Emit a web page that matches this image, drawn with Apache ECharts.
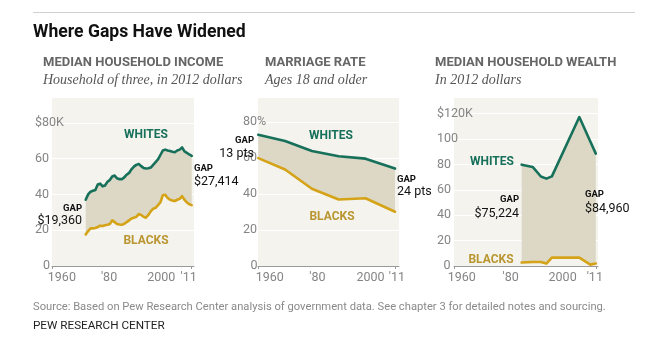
<!DOCTYPE html>
<html><head><meta charset="utf-8">
<script src="https://cdn.jsdelivr.net/npm/echarts@6/dist/echarts.min.js"></script>
<style>html,body{margin:0;padding:0;background:#fff}#c{width:650px;height:360px}</style>
</head><body><div id="c"></div>
<script>
// ---------- DATA ----------
const incomeYears = [1967,1968,1969,1970,1971,1972,1973,1974,1975,1976,1977,1978,1979,1980,1981,1982,1983,1984,1985,1986,1987,1988,1989,1990,1991,1992,1993,1994,1995,1996,1997,1998,1999,2000,2001,2002,2003,2004,2005,2006,2007,2008,2009,2010,2011];
const incomeWhites = [37.0,40.0,41.5,42.0,42.5,45.5,46.0,44.5,45.0,47.0,48.0,50.0,50.5,49.0,48.5,48.5,49.5,51.0,52.0,54.0,55.5,56.5,57.0,55.8,54.8,54.5,54.6,55.0,56.5,58.0,59.5,62.0,64.5,65.0,64.5,64.2,63.8,63.5,64.5,65.0,66.2,64.0,63.2,62.3,61.5];
const incomeBlacks = [17.6,19.5,21.0,21.0,21.2,21.8,22.5,22.3,22.8,23.0,23.4,25.5,24.5,23.5,23.2,23.0,23.6,24.5,25.5,26.5,27.0,27.5,29.0,28.5,27.5,27.0,28.5,30.5,32.0,32.5,34.0,35.5,39.5,39.8,38.0,37.0,36.5,36.3,37.0,37.5,39.0,37.0,35.5,34.5,34.0];

const marriageYears = [1960,1970,1980,1990,2000,2011];
const marriageWhites = [73.0,69.5,64.0,61.0,59.7,54.2];
const marriageBlacks = [60.0,53.7,43.0,37.0,37.7,30.2];

const wealthYears = [1984,1988,1991,1993,1995,2005,2009,2011];
const wealthWhites = [79.8,78.0,70.5,68.8,70.6,117.3,98.1,88.5];
const wealthBlacks = [2.7,3.1,3.1,1.9,6.6,6.6,1.1,1.9];

const xTickValues = [1960,1980,2000,2011];
const xTickLabels = ['1960',"'80",'2000',"'11"];
const yTicksIncome = [0,20,40,60,80];
const yLabelsIncome = ['0','20','40','60','$80K'];
const yTicksMarriage = [0,20,40,60,80];
const yLabelsMarriage = ['0','20','40','60','80%'];
const yTicksWealth = [0,20,40,60,80,100,120];
const yLabelsWealth = ['0','20','40','60','80','100','$120K'];

const gapLabels = {
  incomeStart: '$19,360', incomeEnd: '$27,414',
  marriageStart: '13 pts', marriageEnd: '24 pts',
  wealthStart: '$75,224', wealthEnd: '$84,960'
};

// ---------- STYLE ----------
const SANS = 'Roboto, "Noto Sans", sans-serif';
const SERIF = '"Liberation Serif", "DejaVu Serif", serif';
const C_WHITE = '#17705a', C_BLACK = '#d5a318', C_BLACK_TXT = '#b99630';
const C_BG = '#f4f3ee', C_GAP = '#dcd8c5', C_AXIS = '#9a9a9a', C_TICKLBL = '#858585';

const panels = [
  {left:52, width:142, xMin:1953.0, xMax:2011.95, yMax:94.4, yInterval:20, labelShift:[-7,-8,-4,-3],
   yTicks:yTicksIncome, yLabels:yLabelsIncome, yMargin:17, zeroPad:8,
   years:incomeYears, w:incomeWhites, b:incomeBlacks},
  {left:258, width:141, xMin:1959.9, xMax:2012.5, yMax:94.0, yInterval:20, labelShift:[11.5,5.5,5,2],
   yTicks:yTicksMarriage, yLabels:yLabelsMarriage, yMargin:15, zeroPad:7.5,
   years:marriageYears, w:marriageWhites, b:marriageBlacks},
  {left:454, width:144, xMin:1959.35, xMax:2011.8, yMax:133.1, yInterval:20, labelShift:[6,0,-3,-1],
   yTicks:yTicksWealth, yLabels:yLabelsWealth, yMargin:17, zeroPad:6.5,
   years:wealthYears, w:wealthWhites, b:wealthBlacks}
];
const GRID_TOP = 97, GRID_BOTTOM_Y = 266;

function shiftRich(shifts){
  const r = {};
  shifts.forEach((d,i)=>{
    r['s'+i] = {padding: d>=0 ? [0,0,0,2*d] : [0,-2*d,0,0], color:C_TICKLBL, fontSize:12.5, fontFamily:SANS};
  });
  return r;
}

const grids = [], xAxes = [], yAxes = [], series = [];
panels.forEach((p,i)=>{
  grids.push({left:p.left, top:GRID_TOP, width:p.width, height:GRID_BOTTOM_Y-GRID_TOP,
    show:true, backgroundColor:C_BG, borderWidth:0});
  xAxes.push({type:'value', gridIndex:i, min:p.xMin, max:p.xMax,
    axisLine:{show:true, onZero:false, lineStyle:{color:C_AXIS, width:1}},
    axisTick:{show:true, customValues:[p.xMin, 2011], length:3, lineStyle:{color:C_AXIS}},
    splitLine:{show:false},
    axisLabel:{customValues:xTickValues, margin:5, showMinLabel:true, showMaxLabel:true,
      formatter:(v)=>{const k = xTickValues.indexOf(v); return k<0 ? '' : '{s'+k+'|'+xTickLabels[k]+'}';},
      rich:shiftRich(p.labelShift), color:C_TICKLBL, fontSize:12.5, fontFamily:SANS}
  });
  yAxes.push({type:'value', gridIndex:i, min:0, max:p.yMax, interval:p.yInterval,
    axisLine:{show:false}, axisTick:{show:false},
    splitLine:{show:true, lineStyle:{color:'#ffffff', width:1}},
    axisLabel:{customValues:p.yTicks, align:'left', margin:p.yMargin,
      formatter:(v)=>{const k = p.yTicks.indexOf(v); if(k<0) return ''; return v===0 ? '{z|'+p.yLabels[k]+'}' : p.yLabels[k];},
      rich:{z:{padding:[0,0,0,p.zeroPad], color:C_TICKLBL, fontSize:12.5, fontFamily:SANS}},
      color:C_TICKLBL, fontSize:12.5, fontFamily:SANS}
  });
  series.push({type:'custom', xAxisIndex:i, yAxisIndex:i, silent:true, z:2,
    data:[[p.years[0], p.w[0]]],
    renderItem:(params, api)=>{
      const pts = [];
      for (let k=0;k<p.years.length;k++) pts.push(api.coord([p.years[k], p.w[k]]));
      for (let k=p.years.length-1;k>=0;k--) pts.push(api.coord([p.years[k], p.b[k]]));
      return {type:'polygon', shape:{points:pts}, style:{fill:C_GAP}};
    }
  });
  series.push({type:'line', xAxisIndex:i, yAxisIndex:i, z:3, symbol:'none', silent:true,
    data:p.years.map((y,k)=>[y,p.w[k]]), lineStyle:{color:C_WHITE, width:2.6, join:'round', cap:'round'}});
  series.push({type:'line', xAxisIndex:i, yAxisIndex:i, z:3, symbol:'none', silent:true,
    data:p.years.map((y,k)=>[y,p.b[k]]), lineStyle:{color:C_BLACK, width:2.6, join:'round', cap:'round'}});
});

function txt(x,y,text,opt){
  return {type:'text', z:10, silent:true, style:Object.assign({x:x, y:y, text:text, fill:'#222',
    font:'12px '+SANS, align:'left', verticalAlign:'middle'}, opt||{})};
}
const gapFont = 'bold 9.5px '+SANS, valFont = '12.5px '+SANS, grpFont = 'bold 12px '+SANS;
const graphics = [
  {type:'line', silent:true, shape:{x1:33,y1:12.5,x2:635,y2:12.5}, style:{stroke:'#d0d0d0', lineWidth:1}},
  txt(33,33,'Where Gaps Have Widened',{font:'bold 17.6px '+SANS, fill:'#111'}),
  txt(43,63,'MEDIAN HOUSEHOLD INCOME',{font:'bold 13px '+SANS, fill:'#666'}),
  txt(43,80,'Household of three, in 2012 dollars',{font:'italic 14px '+SERIF, fill:'#555'}),
  txt(265,63,'MARRIAGE RATE',{font:'bold 13px '+SANS, fill:'#666'}),
  txt(265,80,'Ages 18 and older',{font:'italic 14px '+SERIF, fill:'#555'}),
  txt(435,63,'MEDIAN HOUSEHOLD WEALTH',{font:'bold 13px '+SANS, fill:'#666'}),
  txt(435,80,'In 2012 dollars',{font:'italic 14px '+SERIF, fill:'#555'}),
  // panel 1
  txt(146,135,'WHITES',{font:grpFont, fill:C_WHITE, align:'center'}),
  txt(146,241,'BLACKS',{font:grpFont, fill:C_BLACK_TXT, align:'center'}),
  txt(82,209,'GAP',{font:gapFont, fill:'#111', align:'right'}),
  txt(82,221,gapLabels.incomeStart,{font:valFont, fill:'#111', align:'right'}),
  txt(194,169,'GAP',{font:gapFont, fill:'#111'}),
  txt(194,182,gapLabels.incomeEnd,{font:valFont, fill:'#111'}),
  // panel 2
  txt(331,136,'WHITES',{font:grpFont, fill:C_WHITE, align:'center'}),
  txt(332,217,'BLACKS',{font:grpFont, fill:C_BLACK_TXT, align:'center'}),
  txt(254,141,'GAP',{font:gapFont, fill:'#111', align:'right'}),
  txt(254,153.5,gapLabels.marriageStart,{font:valFont, fill:'#111', align:'right'}),
  txt(397,180,'GAP',{font:gapFont, fill:'#111'}),
  txt(397,192,gapLabels.marriageEnd,{font:valFont, fill:'#111'}),
  // panel 3
  txt(492,162,'WHITES',{font:grpFont, fill:C_WHITE, align:'center'}),
  txt(491,260,'BLACKS',{font:grpFont, fill:C_BLACK_TXT, align:'center'}),
  txt(519,200,'GAP',{font:gapFont, fill:'#111', align:'right'}),
  txt(519,214,gapLabels.wealthStart,{font:valFont, fill:'#111', align:'right'}),
  txt(585,195,'GAP',{font:gapFont, fill:'#111'}),
  txt(585,208.5,gapLabels.wealthEnd,{font:valFont, fill:'#111'}),
  // footer
  txt(33,307,'Source: Based on Pew Research Center analysis of government data. See chapter 3 for detailed notes and sourcing.',{font:'11.2px '+SANS, fill:'#8a8a8a'}),
  txt(33,326,'PEW RESEARCH CENTER',{font:'11.7px '+SANS, fill:'#222'})
];

const chart = echarts.init(document.getElementById('c'), null, {renderer:'canvas'});
chart.setOption({animation:false, backgroundColor:'#fff', grid:grids, xAxis:xAxes, yAxis:yAxes, series:series, graphic:graphics});
</script></body></html>
